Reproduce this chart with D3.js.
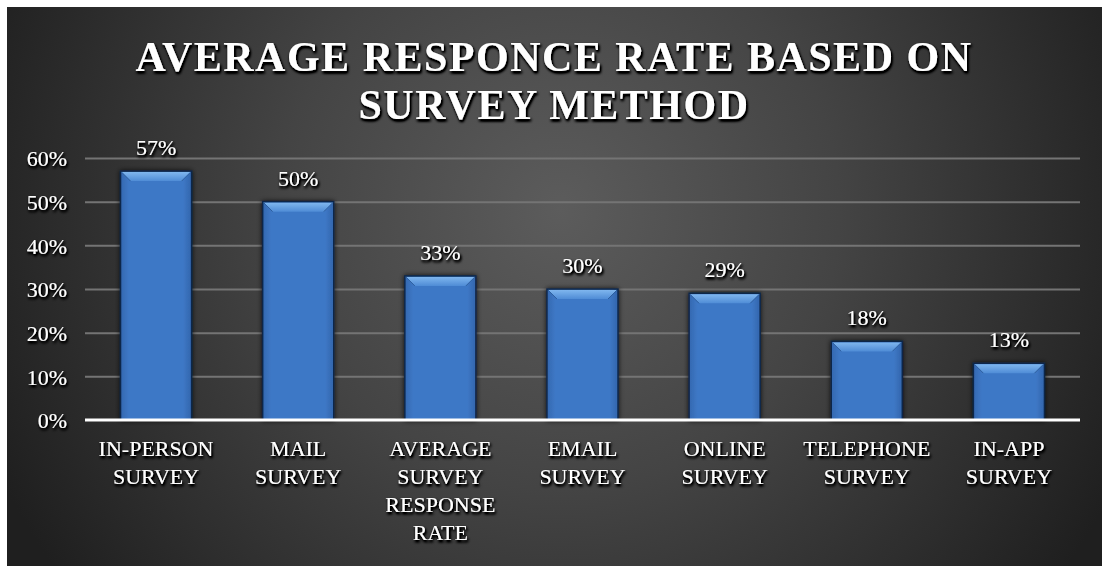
<!DOCTYPE html>
<html>
<head>
<meta charset="utf-8">
<script src="https://cdn.jsdelivr.net/npm/d3@7"></script>
<style>
  html, body { margin: 0; padding: 0; background: #ffffff; }
  svg { display: block; }
</style>
</head>
<body>
<svg id="chart" width="1103" height="566"></svg>
<script>
// Survey methods and their average response rates
const categories = [
  ["IN-PERSON", "SURVEY"],
  ["MAIL", "SURVEY"],
  ["AVERAGE", "SURVEY", "RESPONSE", "RATE"],
  ["EMAIL", "SURVEY"],
  ["ONLINE", "SURVEY"],
  ["TELEPHONE", "SURVEY"],
  ["IN-APP", "SURVEY"]
];
const values = [0.57, 0.50, 0.33, 0.30, 0.29, 0.18, 0.13];
const yTicks = [0, 0.1, 0.2, 0.3, 0.4, 0.5, 0.6];
const titleLines = ["AVERAGE RESPONCE RATE BASED ON", "SURVEY METHOD"];

const svg = d3.select("#chart");
const W = 1103, H = 566;
const panel = { x: 7, y: 7, w: 1095, h: 559 };
const plot = { left: 85, right: 1080, top: 158, bottom: 420 };

const defs = svg.append("defs");

// Dark radial backdrop, lighter toward the upper middle
const bg = defs.append("radialGradient")
  .attr("id", "bgGrad")
  .attr("gradientUnits", "userSpaceOnUse")
  .attr("cx", 560).attr("cy", 210).attr("r", 620);
bg.append("stop").attr("offset", "0%").attr("stop-color", "#5c5c5c");
bg.append("stop").attr("offset", "45%").attr("stop-color", "#444444");
bg.append("stop").attr("offset", "100%").attr("stop-color", "#1f1f1f");

// Bar body shading
const barGrad = defs.append("linearGradient")
  .attr("id", "barGrad").attr("x1", "0").attr("x2", "1").attr("y1", "0").attr("y2", "0");
barGrad.append("stop").attr("offset", "0%").attr("stop-color", "#3468b0");
barGrad.append("stop").attr("offset", "12%").attr("stop-color", "#3e78c6");
barGrad.append("stop").attr("offset", "88%").attr("stop-color", "#3e78c6");
barGrad.append("stop").attr("offset", "100%").attr("stop-color", "#3265ac");

// Bevel on the top face of each bar
const bevelGrad = defs.append("linearGradient")
  .attr("id", "bevelGrad").attr("x1", "0").attr("x2", "0").attr("y1", "0").attr("y2", "1");
bevelGrad.append("stop").attr("offset", "0%").attr("stop-color", "#7fb6ee");
bevelGrad.append("stop").attr("offset", "100%").attr("stop-color", "#4f8cd6");

// Dark glow behind white text
const glow = defs.append("filter").attr("id", "glow")
  .attr("x", "-20%").attr("y", "-40%").attr("width", "140%").attr("height", "180%");
glow.append("feGaussianBlur").attr("in", "SourceAlpha").attr("stdDeviation", 1.6).attr("result", "b");
glow.append("feOffset").attr("in", "b").attr("dx", 1).attr("dy", 1.5).attr("result", "o");
glow.append("feComponentTransfer").attr("in", "o").attr("result", "oa")
  .append("feFuncA").attr("type", "linear").attr("slope", 2.2);
const gm = glow.append("feMerge");
gm.append("feMergeNode").attr("in", "oa");
gm.append("feMergeNode").attr("in", "SourceGraphic");

// Soft shadow around bars
const barShadow = defs.append("filter").attr("id", "barShadow")
  .attr("x", "-20%").attr("y", "-10%").attr("width", "140%").attr("height", "120%");
barShadow.append("feDropShadow").attr("dx", 0).attr("dy", 0)
  .attr("stdDeviation", 2.5).attr("flood-color", "#000").attr("flood-opacity", 0.8);

// Panel
svg.append("rect").attr("width", W).attr("height", H).attr("fill", "#ffffff");
svg.append("rect")
  .attr("x", panel.x).attr("y", panel.y)
  .attr("width", panel.w).attr("height", panel.h)
  .attr("fill", "url(#bgGrad)");

// Scales
const x = d3.scaleBand()
  .domain(d3.range(categories.length))
  .range([plot.left, plot.right])
  .paddingInner(0.5).paddingOuter(0.25);
const y = d3.scaleLinear().domain([0, 0.6]).range([plot.bottom, plot.top]);

// Title
const title = svg.append("text")
  .attr("text-anchor", "middle")
  .attr("font-family", "'Liberation Serif', 'Times New Roman', serif")
  .attr("font-weight", "bold")
  .attr("font-size", 42)
  .attr("letter-spacing", 1.5)
  .attr("fill", "#ffffff")
  .attr("filter", "url(#glow)");
titleLines.forEach((t, i) => {
  title.append("tspan").attr("x", 554).attr("y", 71 + i * 48).text(t);
});

// Gridlines and y-axis labels
const yAxis = d3.axisLeft(y)
  .tickValues(yTicks)
  .tickFormat(d3.format(".0%"))
  .tickSize(-(plot.right - plot.left))
  .tickPadding(18);
const yg = svg.append("g")
  .attr("transform", `translate(${plot.left},0)`)
  .call(yAxis);
yg.select(".domain").remove();
yg.selectAll(".tick line")
  .attr("stroke", "#747474")
  .attr("stroke-width", 2)
  .attr("display", d => d === 0 ? "none" : null);
yg.selectAll(".tick text")
  .attr("fill", "#ffffff")
  .attr("font-family", "'Liberation Serif', 'Times New Roman', serif")
  .attr("font-size", 22)
  .attr("dy", "0.35em")
  .attr("filter", "url(#glow)");

// Bars
const bars = svg.append("g").selectAll("g.bar")
  .data(values)
  .join("g").attr("class", "bar");

bars.append("rect")
  .attr("x", (d, i) => x(i))
  .attr("y", d => y(d))
  .attr("width", x.bandwidth())
  .attr("height", d => y(0) - y(d))
  .attr("fill", "url(#barGrad)")
  .attr("stroke", "#10284a")
  .attr("stroke-width", 1.5)
  .attr("filter", "url(#barShadow)");

const bev = 9;
bars.append("path")
  .attr("d", (d, i) => {
    const x0 = x(i) + 1, x1 = x(i) + x.bandwidth() - 1, yt = y(d) + 1;
    return `M${x0},${yt}L${x1},${yt}L${x1 - bev},${yt + bev}L${x0 + bev},${yt + bev}Z`;
  })
  .attr("fill", "url(#bevelGrad)");

// Subtle diagonal creases at the bevel corners
bars.append("path")
  .attr("d", (d, i) => {
    const x0 = x(i) + 1, x1 = x(i) + x.bandwidth() - 1, yt = y(d) + 1;
    return `M${x0},${yt}L${x0 + bev},${yt + bev}M${x1},${yt}L${x1 - bev},${yt + bev}`;
  })
  .attr("stroke", "#2d5e9e")
  .attr("stroke-width", 1)
  .attr("fill", "none");

// Baseline
svg.append("line")
  .attr("x1", plot.left).attr("x2", plot.right)
  .attr("y1", y(0)).attr("y2", y(0))
  .attr("stroke", "#ffffff").attr("stroke-width", 3);

// Value labels
svg.append("g").selectAll("text")
  .data(values)
  .join("text")
  .attr("x", (d, i) => x(i) + x.bandwidth() / 2)
  .attr("y", d => y(d) - 16)
  .attr("text-anchor", "middle")
  .attr("font-family", "'Liberation Serif', 'Times New Roman', serif")
  .attr("font-size", 22)
  .attr("fill", "#ffffff")
  .attr("filter", "url(#glow)")
  .text(d => d3.format(".0%")(d));

// Category labels
const cat = svg.append("g").selectAll("text")
  .data(categories)
  .join("text")
  .attr("text-anchor", "middle")
  .attr("font-family", "'Liberation Serif', 'Times New Roman', serif")
  .attr("font-size", 22)
  .attr("fill", "#ffffff")
  .attr("filter", "url(#glow)");
cat.each(function (lines, i) {
  const t = d3.select(this);
  lines.forEach((ln, j) => {
    t.append("tspan")
      .attr("x", x(i) + x.bandwidth() / 2)
      .attr("y", 456 + j * 28)
      .text(ln);
  });
});
</script>
</body>
</html>
